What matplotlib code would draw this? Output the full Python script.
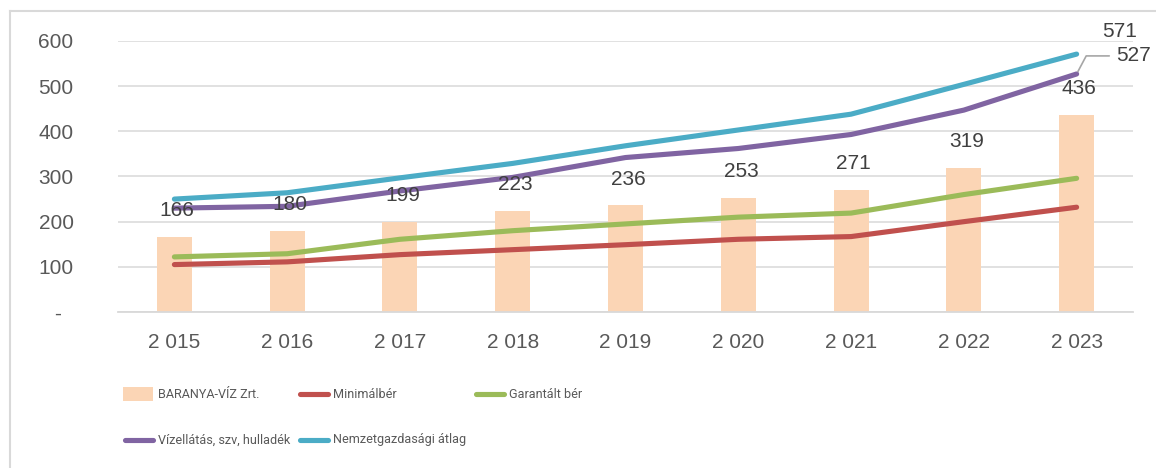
import matplotlib
matplotlib.use("Agg")
import matplotlib.pyplot as plt
from matplotlib import font_manager
from matplotlib.lines import Line2D
from matplotlib.patches import Rectangle

plt.rcParams['font.family'] = ['Liberation Sans', 'DejaVu Sans']

years = ["2 015", "2 016", "2 017", "2 018", "2 019", "2 020", "2 021", "2 022", "2 023"]
baranya = [166, 180, 199, 223, 236, 253, 271, 319, 436]
minimalber = [105, 111, 127, 138, 149, 161, 167, 200, 232]
garantalt = [122, 129, 161, 180, 195, 210, 219, 260, 296]
vizellatas = [230, 234, 268, 298, 342, 362, 393, 447, 527]
nemzetgazd = [250, 264, 297, 329, 368, 403, 438, 504, 571]
yticks = [0, 100, 200, 300, 400, 500, 600]
ylabels = ["-  ", "100", "200", "300", "400", "500", "600"]

c_bar = '#FBD5B5'
c_red = '#C0504D'
c_green = '#9BBB59'
c_purple = '#8064A2'
c_blue = '#4BACC6'
txt = '#404040'
tick_c = '#595959'
grid_c = '#D9D9D9'

# narrow font for the legend if there is one
names = {f.name for f in font_manager.fontManager.ttflist}
if 'Liberation Sans Narrow' in names:
    leg_font, leg_size = 'Liberation Sans Narrow', 11
else:
    leg_font, leg_size = 'Roboto', 9.1

fig = plt.figure(figsize=(11.56, 4.68), dpi=100)
W, H = 1156, 468
ax = fig.add_axes([118 / W, 1 - 312 / H, (1133 - 118) / W, (312 - 41) / H])

x = list(range(len(years)))
ax.bar(x, baranya, width=0.31, color=c_bar, zorder=2)
lw = 3.7
ax.plot(x, minimalber, color=c_red, lw=lw, solid_capstyle='round', zorder=3)
ax.plot(x, garantalt, color=c_green, lw=lw, solid_capstyle='round', zorder=3)
ax.plot(x, vizellatas, color=c_purple, lw=lw, solid_capstyle='round', zorder=3)
ax.plot(x, nemzetgazd, color=c_blue, lw=lw, solid_capstyle='round', zorder=3)

# bar value labels
for i, v in enumerate(baranya):
    ax.annotate(str(v), xy=(i, v), xytext=(2, 19), textcoords='offset points',
                ha='center', va='center', fontsize=15, color=txt, zorder=5)

# end labels of the two upper lines
ax.annotate(str(nemzetgazd[-1]), xy=(8, nemzetgazd[-1]), xytext=(31, 16.5),
            textcoords='offset points', ha='center', va='center', fontsize=15,
            color=txt, annotation_clip=False)
ax.annotate(str(vizellatas[-1]), xy=(8, vizellatas[-1]), xytext=(41, 13),
            textcoords='offset points', ha='center', va='center', fontsize=15,
            color=txt, annotation_clip=False,
            arrowprops=dict(arrowstyle='-', color='#A6A6A6', lw=1.2,
                            shrinkA=3, shrinkB=2, relpos=(0, 0.5),
                            connectionstyle='angle,angleA=0,angleB=62,rad=0'))

ax.set_xlim(-0.5, 8.5)
ax.set_ylim(0, 600)
ax.set_yticks(yticks)
ax.set_yticklabels(ylabels)
ax.set_xticks(x)
ax.set_xticklabels(years)
ax.tick_params(axis='y', length=0, pad=32, labelsize=15, labelcolor=tick_c)
ax.tick_params(axis='x', length=0, pad=15, labelsize=15, labelcolor=tick_c)
ax.grid(axis='y', color=grid_c, lw=1.1, zorder=0)
ax.set_axisbelow(True)
for s in ['top', 'right', 'left']:
    ax.spines[s].set_visible(False)
ax.spines['bottom'].set_color(grid_c)
ax.spines['bottom'].set_linewidth(1.3)

# legend, placed by hand (pixel positions of the original)
leg_items = [
    ("BARANYA-VÍZ Zrt.", c_bar, 'patch', 123, 394),
    ("Minimálbér", c_red, 'line', 298, 394),
    ("Garantált bér", c_green, 'line', 474, 394),
    ("Vízellátás, szv, hulladék", c_purple, 'line', 123, 440),
    ("Nemzetgazdasági átlag", c_blue, 'line', 298, 440),
]
for label, col, kind, px, py in leg_items:
    fy = 1 - py / H
    if kind == 'patch':
        fig.add_artist(Rectangle((px / W, 1 - (py + 7) / H), 30 / W, 14 / H,
                                 transform=fig.transFigure, color=col, lw=0))
    else:
        fig.add_artist(Line2D([(px + 2) / W, (px + 30) / W], [fy, fy], color=col,
                              lw=lw, solid_capstyle='round'))
    fig.text((px + 35) / W, fy, label, ha='left', va='center', fontsize=leg_size,
             family=leg_font, color=tick_c)

# outer chart border (left and top visible)
fig.add_artist(Line2D([10 / W, 10 / W], [0, 1 - 11 / H], color=grid_c, lw=1.5))
fig.add_artist(Line2D([10 / W, 1], [1 - 11 / H, 1 - 11 / H], color=grid_c, lw=1.5))

fig.savefig("out.png", dpi=100)
